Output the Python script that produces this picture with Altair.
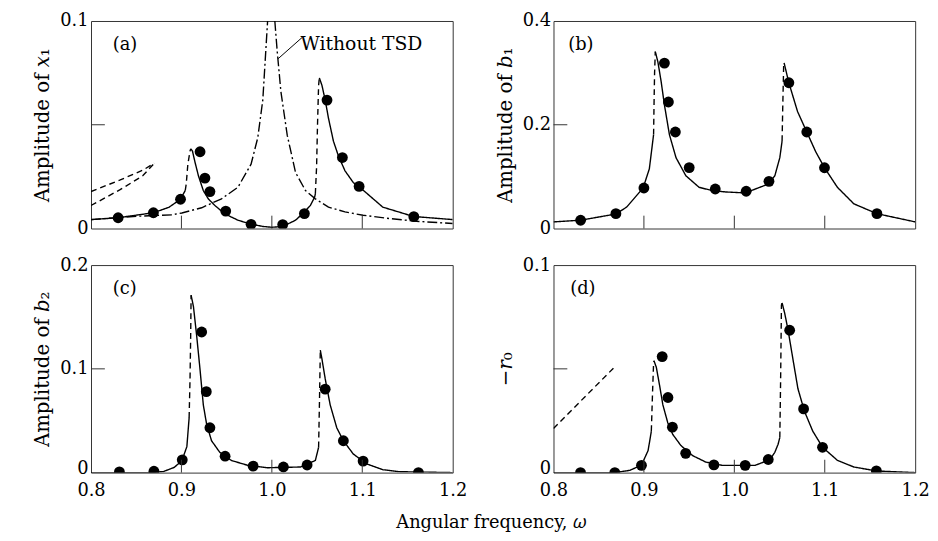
import altair as alt
import pandas as pd

FONT = "DejaVu Serif"
INK = "#000000"
FRAME = "#333333"

X_LABELS = [0.8, 0.9, 1.0, 1.1, 1.2]
X_INNER = [0.9, 1.0, 1.1]
X_TITLE = "Angular frequency, 𝜔"

# ---------------- panel (a): amplitude of x1 ----------------
A_DOTS_W = [0.830, 0.869, 0.899, 0.9206, 0.926, 0.9315, 0.949, 0.977, 1.012, 1.036, 1.061, 1.078, 1.0965, 1.157]
A_DOTS_V = [0.0052, 0.0076, 0.0141, 0.0370, 0.0243, 0.0178, 0.0084, 0.0020, 0.0019, 0.0072, 0.0619, 0.0342, 0.0203, 0.0057]
A_SOLID_1 = [(0.800, 0.0043), (0.830, 0.0052), (0.869, 0.0076), (0.886, 0.0102), (0.8987, 0.0140), (0.9042, 0.0183)]
A_DASH_1 = [(0.9042, 0.0183), (0.9053, 0.0214), (0.9071, 0.0310), (0.9096, 0.0375), (0.9104, 0.0384)]
A_SOLID_2 = [(0.9104, 0.0384), (0.9122, 0.0373), (0.9151, 0.0318), (0.9188, 0.0254), (0.9242, 0.0183),
             (0.9297, 0.0143), (0.9370, 0.0111), (0.9479, 0.0071), (0.9625, 0.0040), (0.9770, 0.0021),
             (0.990, 0.0010), (1.000, 0.0006), (1.012, 0.0010), (1.0262, 0.0040), (1.0353, 0.0077),
             (1.0426, 0.0111), (1.0473, 0.0151), (1.0481, 0.0167)]
A_DASH_2 = [(1.0481, 0.0167), (1.0495, 0.0300), (1.0505, 0.0500), (1.0517, 0.0690), (1.0525, 0.0726)]
A_SOLID_3 = [(1.0525, 0.0726), (1.0554, 0.0690), (1.0590, 0.0619), (1.0626, 0.0532), (1.0681, 0.0421),
             (1.0736, 0.0350), (1.0809, 0.0278), (1.0900, 0.0222), (1.1009, 0.0185), (1.1227, 0.0103),
             (1.1567, 0.0058), (1.200, 0.0043)]
A_FOLD_UP = [(0.800, 0.0178), (0.8317, 0.0233), (0.8572, 0.0281), (0.8699, 0.0314)]
A_FOLD_LO = [(0.800, 0.0111), (0.8317, 0.0186), (0.8572, 0.0254), (0.8699, 0.0314)]
A_NO_TSD_L = [(0.800, 0.0043), (0.850, 0.0059), (0.8896, 0.0066), (0.9005, 0.0075), (0.9224, 0.0100),
              (0.9443, 0.0143), (0.9625, 0.0199), (0.9770, 0.0310), (0.9844, 0.0437), (0.9900, 0.0620),
              (0.9953, 0.1000)]
A_NO_TSD_R = [(1.0033, 0.1000), (1.0040, 0.0960), (1.0060, 0.0850), (1.0100, 0.0660), (1.0170, 0.0450),
              (1.0262, 0.0270), (1.0372, 0.0183), (1.0481, 0.0143), (1.0626, 0.0103), (1.0809, 0.0080),
              (1.1009, 0.0064), (1.1300, 0.0048), (1.1600, 0.0035), (1.2000, 0.0024)]
A_LEADER = [(1.0069, 0.0818, 1.0336, 0.0921)]
A_NOTE = "Without TSD"

# ---------------- panel (b): amplitude of b1 ----------------
B_DOTS_W = [0.830, 0.869, 0.900, 0.9227, 0.9271, 0.9348, 0.9501, 0.9789, 1.0131, 1.0383, 1.0603, 1.0801, 1.0997, 1.1577]
B_DOTS_V = [0.0160, 0.0286, 0.0781, 0.3188, 0.2438, 0.1861, 0.1175, 0.0762, 0.0718, 0.0909, 0.2810, 0.1861, 0.1172, 0.0286]
B_SOLID_1 = [(0.800, 0.0128), (0.830, 0.0160), (0.869, 0.0280), (0.8809, 0.0413), (0.8991, 0.0781),
             (0.9060, 0.1150), (0.9107, 0.1810)]
B_DASH_1 = [(0.9107, 0.1810), (0.9112, 0.2400), (0.9118, 0.3000), (0.9126, 0.3410)]
B_SOLID_2 = [(0.9126, 0.3410), (0.9155, 0.3208), (0.9191, 0.2827), (0.9227, 0.2381), (0.9282, 0.1810),
             (0.9355, 0.1366), (0.9464, 0.1017), (0.9610, 0.0794), (0.9756, 0.0731), (0.9902, 0.0705),
             (1.0120, 0.0686), (1.0375, 0.0857), (1.0448, 0.1017), (1.0503, 0.1366), (1.0528, 0.1684)]
B_DASH_2 = [(1.0528, 0.1684), (1.0535, 0.2300), (1.0546, 0.3175), (1.0550, 0.3194)]
B_SOLID_3 = [(1.0550, 0.3194), (1.0603, 0.2810), (1.0699, 0.2255), (1.0801, 0.1861), (1.0900, 0.1480),
             (1.0997, 0.1172), (1.1140, 0.0794), (1.1322, 0.0476), (1.1577, 0.0286), (1.200, 0.0128)]

# ---------------- panel (c): amplitude of b2 ----------------
C_DOTS_W = [0.8314, 0.8696, 0.9009, 0.9224, 0.9275, 0.9315, 0.9483, 0.9793, 1.0128, 1.039, 1.059, 1.0791, 1.1009, 1.1621]
C_DOTS_V = [0.0007, 0.0013, 0.0123, 0.1355, 0.0780, 0.0432, 0.0158, 0.0062, 0.0054, 0.0073, 0.0804, 0.0307, 0.0111, 0.0000]
C_SOLID_1 = [(0.800, 0.0000), (0.865, 0.0000), (0.880, 0.0010), (0.892, 0.0050), (0.9005, 0.0115),
             (0.9060, 0.0250), (0.9085, 0.0527)]
C_DASH_1 = [(0.9085, 0.0527), (0.9095, 0.0900), (0.9102, 0.1300), (0.9107, 0.1710)]
C_SOLID_2 = [(0.9107, 0.1710), (0.9133, 0.1600), (0.9169, 0.1315), (0.9205, 0.1000), (0.9242, 0.0653),
             (0.9279, 0.0464), (0.9333, 0.0307), (0.9424, 0.0196), (0.9552, 0.0117), (0.9734, 0.0070),
             (0.9953, 0.0047), (1.0317, 0.0054), (1.0481, 0.0117), (1.0517, 0.0243)]
C_DASH_2 = [(1.0517, 0.0243), (1.0527, 0.0700), (1.0536, 0.1180)]
C_SOLID_3 = [(1.0536, 0.1180), (1.0554, 0.1095), (1.0590, 0.0905), (1.0645, 0.0653), (1.0718, 0.0432),
             (1.0791, 0.0307), (1.0900, 0.0180), (1.1046, 0.0085), (1.1227, 0.0028), (1.1410, 0.0009),
             (1.200, 0.0000)]

# ---------------- panel (d): -r0 ----------------
D_DOTS_W = [0.8299, 0.8678, 0.8973, 0.9202, 0.9266, 0.9315, 0.9462, 0.9774, 1.012, 1.0375, 1.0612, 1.0766, 1.0975, 1.1571]
D_DOTS_V = [0.0000, 0.0000, 0.0035, 0.0559, 0.0362, 0.0219, 0.0093, 0.0037, 0.0035, 0.0063, 0.0686, 0.0307, 0.0122, 0.0008]
D_SOLID_1 = [(0.800, 0.0000), (0.8678, 0.0000), (0.8845, 0.0011), (0.8973, 0.0036), (0.9046, 0.0106),
             (0.9071, 0.0170), (0.9082, 0.0200)]
D_DASH_1 = [(0.9082, 0.0200), (0.9095, 0.0380), (0.9107, 0.0528), (0.9111, 0.0539)]
D_SOLID_2 = [(0.9111, 0.0539), (0.9137, 0.0508), (0.9173, 0.0421), (0.9210, 0.0326), (0.9264, 0.0240),
             (0.9319, 0.0184), (0.9410, 0.0130), (0.9538, 0.0082), (0.9683, 0.0051), (0.9866, 0.0035),
             (1.0011, 0.0035), (1.0230, 0.0035), (1.0393, 0.0062), (1.0448, 0.0098), (1.0484, 0.0137),
             (1.0503, 0.0169)]
D_DASH_2 = [(1.0503, 0.0169), (1.0512, 0.0450), (1.0521, 0.0807), (1.0528, 0.0818)]
D_SOLID_3 = [(1.0528, 0.0818), (1.0557, 0.0768), (1.0593, 0.0690), (1.0648, 0.0547), (1.0703, 0.0405),
             (1.0776, 0.0295), (1.0867, 0.0200), (1.0976, 0.0122), (1.1140, 0.0059), (1.1322, 0.0027),
             (1.1571, 0.0008), (1.200, 0.0000)]
D_FOLD = [(0.800, 0.0213), (0.8692, 0.0516)]

PANEL_W = 366
PANEL_H = 210

STYLE_DOMAIN = ["solid", "dashed", "dashdot"]
STYLE_RANGE = [[1, 0], [6, 4], [10, 3, 2, 3]]


def seg_frame(segments):
    rows = []
    for sid, (style, pts) in enumerate(segments):
        for i, (w, v) in enumerate(pts):
            rows.append({"w": w, "v": v, "seg": sid, "style": style, "i": i})
    return pd.DataFrame(rows)


def panel(segments, dots_w, dots_v, ymax, ymid, yvals, ytitle, tag, tag_x, show_x,
          leader=None, note=None, xtitle=None):
    xs = alt.Scale(domain=[0.8, 1.2], nice=False, zero=False)
    ys = alt.Scale(domain=[0, ymax], nice=False, zero=False)
    label_expr = "datum.value == 0 ? '0' : format(datum.value, '.1f')"
    if show_x:
        xaxis = alt.Axis(values=X_LABELS, format=".1f", labelFlush=False, labelPadding=9,
                         labelOverlap=False, title=None)
        yaxis = alt.Axis(values=yvals, labelExpr=label_expr, labelPadding=3, titlePadding=7,
                         labelOverlap=False, title=ytitle,
                         labelOffset={"condition": {"test": "datum.value == 0", "value": -4}, "value": 0})
    else:
        xaxis = None
        yaxis = alt.Axis(values=yvals, labelExpr=label_expr, labelPadding=3, titlePadding=7,
                         labelOverlap=False, title=ytitle)

    def X():
        return alt.X("w:Q", scale=xs, axis=xaxis)

    def Y():
        return alt.Y("v:Q", scale=ys, axis=yaxis)

    lines = alt.Chart(seg_frame(segments)).mark_line(clip=True, color=INK, strokeWidth=1.4).encode(
        x=X(), y=Y(), detail="seg:N", order="i:Q",
        strokeDash=alt.StrokeDash("style:N", scale=alt.Scale(domain=STYLE_DOMAIN, range=STYLE_RANGE),
                                  legend=None),
    )
    dots = alt.Chart(pd.DataFrame({"w": dots_w, "v": dots_v})).mark_circle(
        size=120, color=INK, opacity=1, clip=True).encode(x=X(), y=Y())
    xt = alt.Chart(pd.DataFrame({"w": X_INNER})).mark_rule(color=FRAME, strokeWidth=1).encode(
        x=X(), y=alt.value(PANEL_H), y2=alt.value(PANEL_H - 13))
    yt = alt.Chart(pd.DataFrame({"v": [ymid]})).mark_rule(color=FRAME, strokeWidth=1).encode(
        y=Y(), x=alt.value(0), x2=alt.value(14))
    lab = alt.Chart(pd.DataFrame({"t": [tag]})).mark_text(
        font=FONT, fontSize=18, color=INK, align="left", baseline="middle").encode(
        text="t:N", x=alt.value(tag_x), y=alt.value(24))
    layers = [lines, dots, xt, yt, lab]
    if leader is not None:
        ld = pd.DataFrame(leader, columns=["w", "v", "w2", "v2"])
        layers.append(alt.Chart(ld).mark_rule(color=INK, strokeWidth=1).encode(
            x=X(), y=Y(), x2="w2:Q", y2="v2:Q"))
    if note is not None:
        layers.append(alt.Chart(pd.DataFrame({"t": [note]})).mark_text(
            font=FONT, fontSize=19, color=INK, align="left", baseline="alphabetic").encode(
            text="t:N", x=alt.value(212), y=alt.value(29)))
    if xtitle is not None:
        layers.append(alt.Chart(pd.DataFrame({"t": [xtitle]})).mark_text(
            font=FONT, fontSize=18, color=INK, align="center", baseline="alphabetic").encode(
            text="t:N", x=alt.value(405), y=alt.value(266)))
    return alt.layer(*layers).properties(width=PANEL_W, height=PANEL_H)


pa = panel([("solid", A_SOLID_1), ("dashed", A_DASH_1), ("solid", A_SOLID_2), ("dashed", A_DASH_2),
            ("solid", A_SOLID_3), ("dashed", A_FOLD_UP), ("dashed", A_FOLD_LO),
            ("dashdot", A_NO_TSD_L), ("dashdot", A_NO_TSD_R)],
           A_DOTS_W, A_DOTS_V, 0.1, 0.05, [0, 0.1], "Amplitude of 𝑥₁", "(a)", 22, False,
           leader=A_LEADER, note=A_NOTE)
pb = panel([("solid", B_SOLID_1), ("dashed", B_DASH_1), ("solid", B_SOLID_2), ("dashed", B_DASH_2),
            ("solid", B_SOLID_3)],
           B_DOTS_W, B_DOTS_V, 0.4, 0.2, [0, 0.2, 0.4], "Amplitude of 𝑏₁", "(b)", 15, False)
pc = panel([("solid", C_SOLID_1), ("dashed", C_DASH_1), ("solid", C_SOLID_2), ("dashed", C_DASH_2),
            ("solid", C_SOLID_3)],
           C_DOTS_W, C_DOTS_V, 0.2, 0.1, [0, 0.1, 0.2], "Amplitude of 𝑏₂", "(c)", 22, True,
           xtitle=X_TITLE)
pd_ = panel([("solid", D_SOLID_1), ("dashed", D_DASH_1), ("solid", D_SOLID_2), ("dashed", D_DASH_2),
             ("solid", D_SOLID_3), ("dashed", D_FOLD)],
            D_DOTS_W, D_DOTS_V, 0.1, 0.05, [0, 0.1], "−𝑟₀", "(d)", 17, True)

chart = alt.concat(
    pa, pb, pc, pd_, columns=2,
    spacing={"row": 37, "column": 102}, bounds="flush",
).properties(
    padding={"left": 24, "top": 0, "right": 0, "bottom": 0},
    background="white",
).configure_view(
    stroke=FRAME, strokeWidth=1,
).configure_axis(
    domain=False, ticks=False, grid=False,
    labelFont=FONT, labelFontSize=18, labelColor=INK,
    titleFont=FONT, titleFontSize=20, titleFontWeight="normal", titleColor=INK,
)

chart.save("out.html", embed_options={"renderer": "svg", "actions": False})
